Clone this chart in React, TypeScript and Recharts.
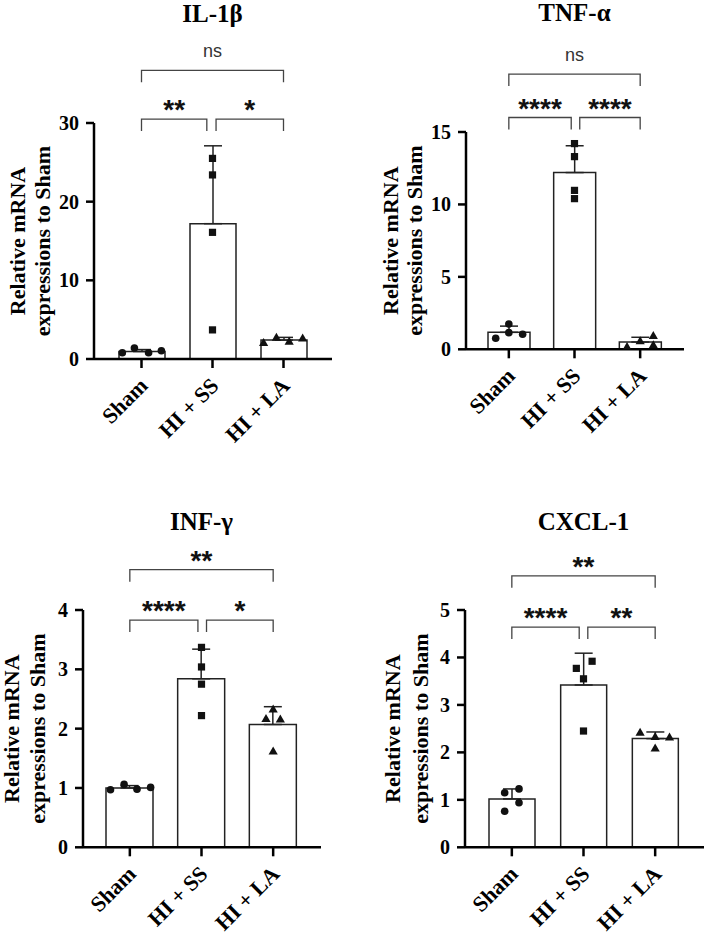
import React from 'react'
import {
  ComposedChart,
  Bar,
  ErrorBar,
  Scatter,
  XAxis,
  YAxis,
  ReferenceLine,
} from 'recharts'

const GROUPS = ['Sham', 'HI + SS', 'HI + LA']

// IL-1β
const IL1B_MEAN = [0.95, 17.2, 2.4]
const IL1B_SD = [0.25, 9.9, 0.35]
const IL1B_POINTS = [
  [0.8, 1.4, 0.8, 1.05],
  [25.5, 23.4, 16.1, 3.7],
  [2.1, 2.75, 2.25, 2.67],
]
const IL1B_JITTER = [
  [-0.27, -0.1, 0.1, 0.28],
  [0, 0, 0, 0],
  [-0.28, -0.1, 0.08, 0.27],
]
const IL1B_TICKS = [0, 10, 20, 30]
const IL1B_SIG = [
  { from: 0, to: 2, level: 36.7, label: 'ns' },
  { from: 0, to: 0.92, level: 30.5, label: '**' },
  { from: 1.05, to: 2, level: 30.5, label: '*' },
]

// TNF-α
const TNF_MEAN = [1.17, 12.2, 0.5]
const TNF_SD = [0.43, 1.85, 0.33]
const TNF_POINTS = [
  [0.76, 1.75, 1.15, 1.04],
  [14.2, 13.3, 10.97, 10.4],
  [0.18, 0.59, 0.94, 0.3],
]
const TNF_JITTER = [
  [-0.2, 0, 0, 0.21],
  [0, 0, 0, 0],
  [-0.2, 0, 0.2, 0.2],
]
const TNF_TICKS = [0, 5, 10, 15]
const TNF_SIG = [
  { from: 0, to: 2, level: 19.0, label: 'ns' },
  { from: 0, to: 0.95, level: 16.0, label: '****' },
  { from: 1.08, to: 2, level: 16.0, label: '****' },
]

// INF-γ
const INF_MEAN = [1.0, 2.84, 2.07]
const INF_SD = [0.04, 0.5, 0.3]
const INF_POINTS = [
  [0.97, 1.06, 0.98, 1.01],
  [3.37, 3.04, 2.75, 2.22],
  [2.17, 2.33, 2.16, 1.62],
]
const INF_JITTER = [
  [-0.27, -0.08, 0.1, 0.29],
  [0, 0, 0, 0],
  [-0.1, 0, 0.1, 0],
]
const INF_TICKS = [0, 1, 2, 3, 4]
const INF_SIG = [
  { from: 0, to: 2, level: 4.68, label: '**' },
  { from: 0, to: 0.95, level: 3.83, label: '****' },
  { from: 1.07, to: 2, level: 3.83, label: '*' },
]

// CXCL-1
const CXCL_MEAN = [1.02, 3.42, 2.29]
const CXCL_SD = [0.21, 0.67, 0.14]
const CXCL_POINTS = [
  [0.76, 1.15, 0.94, 1.23],
  [3.77, 3.92, 3.55, 2.45],
  [2.42, 2.09, 2.33, 2.32],
]
const CXCL_JITTER = [
  [-0.1, -0.1, 0.1, 0.1],
  [-0.1, 0.12, 0, 0],
  [-0.21, 0, 0, 0.2],
]
const CXCL_TICKS = [0, 1, 2, 3, 4, 5]
const CXCL_SIG = [
  { from: 0, to: 2, level: 5.72, label: '**' },
  { from: 0, to: 0.94, level: 4.64, label: '****' },
  { from: 1.06, to: 2, level: 4.64, label: '**' },
]

const SERIF = 'Liberation Serif'
const SANS = 'Liberation Sans'
const LEG = 12

function Marker(props: any) {
  const { cx, cy, payload } = props
  if (cx == null || cy == null) return null
  if (payload.g === 0) return <circle cx={cx} cy={cy} r={3.8} fill="#111" />
  if (payload.g === 1)
    return <rect x={cx - 3.6} y={cy - 3.6} width={7.2} height={7.2} fill="#111" />
  return (
    <path
      d={`M${cx},${cy - 4.6} L${cx + 4.6},${cy + 3.4} L${cx - 4.6},${cy + 3.4} Z`}
      fill="#111"
    />
  )
}

function Bracket(props: any) {
  const { x1, y1, x2, y2 } = props
  return (
    <path
      d={`M${x1},${y1 + LEG} V${y1} H${x2} V${y2 + LEG}`}
      fill="none"
      stroke="#444"
      strokeWidth={1.3}
    />
  )
}

function XTick(props: any) {
  const { x, y, payload } = props
  const px = x + 7.5
  const py = y + 17
  return (
    <text
      x={px}
      y={py}
      transform={`rotate(-45, ${px}, ${py})`}
      textAnchor="end"
      fontFamily={SERIF}
      fontWeight="bold"
      fontSize={22}
      fill="#000"
    >
      {payload.value}
    </text>
  )
}

function YTick(props: any) {
  const { x, y, payload } = props
  return (
    <text
      x={x}
      y={y}
      dy={7}
      textAnchor="end"
      fontFamily={SERIF}
      fontWeight="bold"
      fontSize={20}
      fill="#000"
    >
      {payload.value}
    </text>
  )
}

function makeYLabel(off1: number, off2: number) {
  return function YLabel(props: any) {
    const { viewBox } = props
    const ax = viewBox.x + viewBox.width
    const cy = viewBox.y + viewBox.height / 2
    const l1 = ax - off1
    const l2 = ax - off2
    return (
      <g fontFamily={SERIF} fontWeight="bold" fontSize={22} fill="#000">
        <text x={l1} y={cy} dy={8} transform={`rotate(-90, ${l1}, ${cy})`} textAnchor="middle">
          Relative mRNA
        </text>
        <text x={l2} y={cy} dy={6} transform={`rotate(-90, ${l2}, ${cy})`} textAnchor="middle">
          expressions to Sham
        </text>
      </g>
    )
  }
}

interface PanelProps {
  title: string
  mean: number[]
  sd: number[]
  points: number[][]
  jitter: number[][]
  ticks: number[]
  sig: { from: number; to: number; level: number; label: string }[]
  left: number
  top: number
  width: number
  height: number
  plotLeft: number
  plotTop: number
  plotRight: number
  plotBottom: number
  pad: [number, number]
  barSize: number
  titleY: number
  labelOff: [number, number]
}

function Panel(p: PanelProps) {
  const data = GROUPS.map((name, i) => ({
    name,
    mean: p.mean[i],
    err: [0, p.sd[i]],
  }))
  const pts = p.points.flatMap((vals, g) =>
    vals.map((v, k) => ({ g, x: g + p.jitter[g][k], y: v }))
  )
  const yAxisW = 60
  const padding = { left: p.pad[0], right: p.pad[1] }
  const axisStyle = { stroke: '#000', strokeWidth: 2.5 }
  const YLabel = makeYLabel(p.labelOff[0], p.labelOff[1])
  // title sits over the middle group
  const titleX = p.plotLeft + p.pad[0] + (p.plotRight - p.plotLeft - p.pad[0] - p.pad[1]) / 2
  return (
    <div
      style={{
        position: 'absolute',
        left: p.left,
        top: p.top,
        width: p.width,
        height: p.height,
        fontFamily: SERIF,
      }}
    >
      <div
        style={{
          position: 'absolute',
          left: titleX - 100,
          width: 200,
          top: p.titleY,
          textAlign: 'center',
          fontWeight: 700,
          fontSize: 25,
          lineHeight: '26px',
          color: '#000',
        }}
      >
        {p.title}
      </div>
      <ComposedChart
        width={p.width}
        height={p.height}
        data={data}
        style={{ fontFamily: SERIF }}
        margin={{
          top: p.plotTop,
          right: p.width - p.plotRight,
          bottom: p.height - p.plotBottom - 80,
          left: p.plotLeft - yAxisW,
        }}
      >
        <XAxis
          dataKey="name"
          type="category"
          padding={padding}
          height={80}
          interval={0}
          tickSize={9}
          tickMargin={2}
          axisLine={axisStyle}
          tickLine={axisStyle}
          tick={<XTick />}
        />
        <XAxis
          xAxisId="num"
          dataKey="x"
          type="number"
          domain={[-0.5, 2.5]}
          padding={padding}
          allowDataOverflow
          hide
        />
        <YAxis
          width={yAxisW}
          domain={[0, p.ticks[p.ticks.length - 1]]}
          ticks={p.ticks}
          interval={0}
          allowDataOverflow
          tickSize={8}
          tickMargin={7}
          axisLine={axisStyle}
          tickLine={axisStyle}
          tick={<YTick />}
          label={{ content: <YLabel /> }}
        />
        <Bar
          dataKey="mean"
          barSize={p.barSize}
          fill="#fff"
          stroke="#222"
          strokeWidth={1.5}
          isAnimationActive={false}
        >
          <ErrorBar dataKey="err" width={9} stroke="#222" strokeWidth={1.5} direction="y" />
        </Bar>
        <Scatter
          data={pts}
          xAxisId="num"
          dataKey="y"
          shape={<Marker />}
          isAnimationActive={false}
        />
        {p.sig.map((s, i) => (
          <ReferenceLine
            key={i}
            xAxisId="num"
            ifOverflow="visible"
            segment={[
              { x: s.from, y: s.level },
              { x: s.to, y: s.level },
            ]}
            shape={Bracket}
            label={
              s.label === 'ns'
                ? { value: s.label, position: 'top', offset: 13, fill: '#333', fontSize: 18, fontFamily: SANS }
                : { value: s.label, position: 'top', offset: 0, fill: '#111', fontSize: 28, fontWeight: 700, fontFamily: SANS }
            }
          />
        ))}
      </ComposedChart>
    </div>
  )
}

export default function App() {
  return (
    <div style={{ position: 'absolute', left: 0, top: 0, width: 705, height: 938, background: '#fff', overflow: 'hidden' }}>
      <Panel
        title="IL-1β"
        mean={IL1B_MEAN}
        sd={IL1B_SD}
        points={IL1B_POINTS}
        jitter={IL1B_JITTER}
        ticks={IL1B_TICKS}
        sig={IL1B_SIG}
        left={0}
        top={0}
        width={352}
        height={450}
        plotLeft={94}
        plotTop={123}
        plotRight={332}
        plotBottom={359}
        pad={[12, 13]}
        barSize={46}
        titleY={1}
        labelOff={[77, 50]}
      />
      <Panel
        title="TNF-α"
        mean={TNF_MEAN}
        sd={TNF_SD}
        points={TNF_POINTS}
        jitter={TNF_JITTER}
        ticks={TNF_TICKS}
        sig={TNF_SIG}
        left={352}
        top={0}
        width={353}
        height={450}
        plotLeft={114}
        plotTop={132}
        plotRight={332}
        plotBottom={349.3}
        pad={[10, 11]}
        barSize={42}
        titleY={0}
        labelOff={[76, 50]}
      />
      <Panel
        title="INF-γ"
        mean={INF_MEAN}
        sd={INF_SD}
        points={INF_POINTS}
        jitter={INF_JITTER}
        ticks={INF_TICKS}
        sig={INF_SIG}
        left={0}
        top={450}
        width={352}
        height={488}
        plotLeft={83}
        plotTop={160}
        plotRight={321}
        plotBottom={397.3}
        pad={[11, 12]}
        barSize={47}
        titleY={59}
        labelOff={[72, 44]}
      />
      <Panel
        title="CXCL-1"
        mean={CXCL_MEAN}
        sd={CXCL_SD}
        points={CXCL_POINTS}
        jitter={CXCL_JITTER}
        ticks={CXCL_TICKS}
        sig={CXCL_SIG}
        left={352}
        top={450}
        width={353}
        height={488}
        plotLeft={113}
        plotTop={160}
        plotRight={352}
        plotBottom={397.3}
        pad={[11, 13]}
        barSize={46}
        titleY={59}
        labelOff={[73, 43]}
      />
    </div>
  )
}
